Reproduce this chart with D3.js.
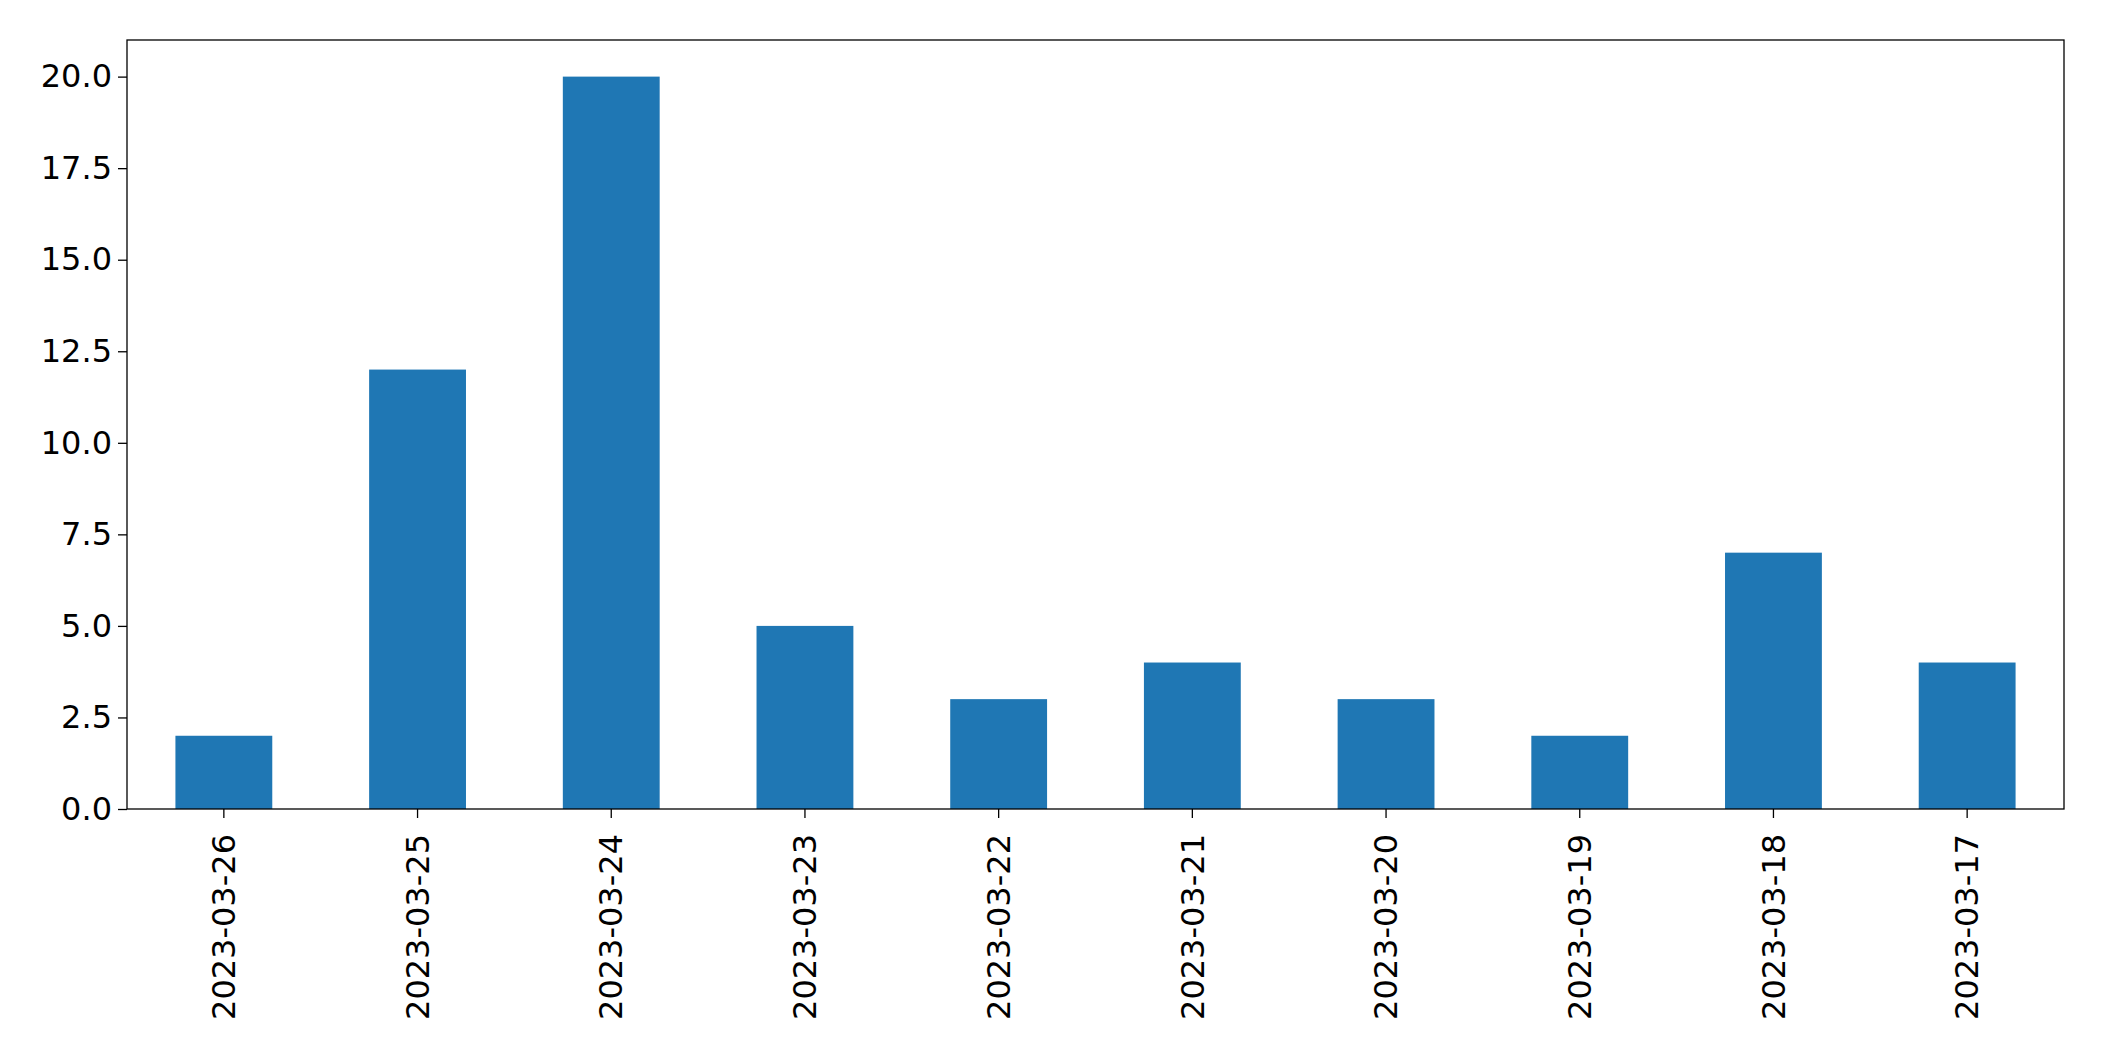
<!DOCTYPE html>
<html>
<head>
<meta charset="utf-8">
<script src="https://cdn.jsdelivr.net/npm/d3@7"></script>
<style>
  body { margin: 0; background: #fff; }
  text { font-family: "DejaVu Sans", sans-serif; }
</style>
</head>
<body>
<svg id="chart" width="2104" height="1061"></svg>
<script>
var dates = ['2023-03-26', '2023-03-25', '2023-03-24', '2023-03-23', '2023-03-22',
    '2023-03-21', '2023-03-20', '2023-03-19', '2023-03-18', '2023-03-17'];
var counts = [2, 12, 20, 5, 3, 4, 3, 2, 7, 4];
var yTicks = [0, 2.5, 5, 7.5, 10, 12.5, 15, 17.5, 20];

var margin = { top: 40, right: 40, bottom: 252, left: 127 };
var width = 2104 - margin.left - margin.right;
var height = 1061 - margin.top - margin.bottom;

var svg = d3.select('#chart');
var g = svg.append('g').attr('transform', 'translate(' + margin.left + ',' + margin.top + ')');

var x = d3.scaleBand().domain(dates).range([0, width]).paddingInner(0.5).paddingOuter(0.25);
var y = d3.scaleLinear().domain([0, 21]).range([height, 0]);

g.selectAll('rect.bar')
    .data(counts)
    .enter()
    .append('rect')
    .attr('class', 'bar')
    .attr('x', function (d, i) { return x(dates[i]); })
    .attr('width', x.bandwidth())
    .attr('y', function (d) { return y(d); })
    .attr('height', function (d) { return height - y(d); })
    .attr('fill', '#1f77b4');

var yAxis = g.append('g')
    .call(d3.axisLeft(y).tickValues(yTicks).tickFormat(d3.format('.1f')).tickSize(9).tickPadding(6));
var xAxis = g.append('g')
    .attr('transform', 'translate(0,' + height + ')')
    .call(d3.axisBottom(x).tickSize(9).tickPadding(6));

xAxis.selectAll('text')
    .attr('transform', 'rotate(-90)')
    .attr('text-anchor', 'end')
    .attr('dx', '-0.5em')
    .attr('dy', '0.35em')
    .attr('x', -9)
    .attr('y', 0);

[xAxis, yAxis].forEach(function (a) {
    a.selectAll('text').style('font-size', '32px').attr('fill', '#000');
    a.selectAll('line').attr('stroke', '#000').attr('stroke-width', 1.3);
    a.select('.domain').remove();
});

g.append('rect')
    .attr('width', width)
    .attr('height', height)
    .attr('fill', 'none')
    .attr('stroke', '#000')
    .attr('stroke-width', 1.3);
</script>
</body>
</html>
